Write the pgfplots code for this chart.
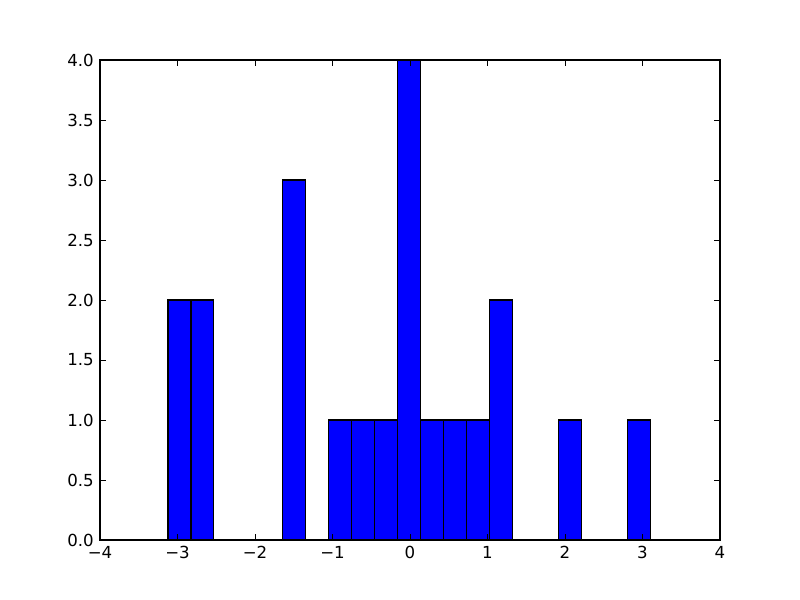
\documentclass[border=0pt]{standalone}
\usepackage{pgfplots}
\pgfplotsset{compat=1.18}
\usepackage{fontspec}
\setmainfont{DejaVu Sans}
\begin{document}
\begin{tikzpicture}
\useasboundingbox (-1in,-0.6in) rectangle (7in,5.4in);
\begin{axis}[
  scale only axis,
  width=6.2in, height=4.8in,
  xmin=-4, xmax=4, ymin=0, ymax=4,
  axis line style={line width=1pt},
  tick style={black, line width=0.6pt},
  major tick length=4pt,
  tick align=inside,
  xtick={-4,-3,-2,-1,0,1,2,3,4},
  xticklabels={−4,−3,−2,−1,0,1,2,3,4},
  ytick={0,0.5,1,1.5,2,2.5,3,3.5,4},
  yticklabels={0.0,0.5,1.0,1.5,2.0,2.5,3.0,3.5,4.0},
  tick label style={font=\fontsize{12pt}{14pt}\selectfont},
  xticklabel style={yshift=-1pt},
  yticklabel style={xshift=-1pt},
  axis on top,
]
\addplot[ybar interval, fill={rgb,1:red,0;green,0;blue,1}, draw=black, line width=0.8pt]
coordinates {
(-3.1226,2) (-2.8263,2) (-2.5299,0) (-2.2336,0) (-1.9373,0)
(-1.6409,3) (-1.3446,0) (-1.0482,1) (-0.7519,1) (-0.4556,1)
(-0.1592,4) (0.1371,1) (0.4334,1) (0.7298,1) (1.0261,2)
(1.3225,0) (1.6188,0) (1.9151,1) (2.2115,0) (2.5078,0)
(2.8042,1) (3.1006,0)
};
\end{axis}
\end{tikzpicture}
\end{document}
